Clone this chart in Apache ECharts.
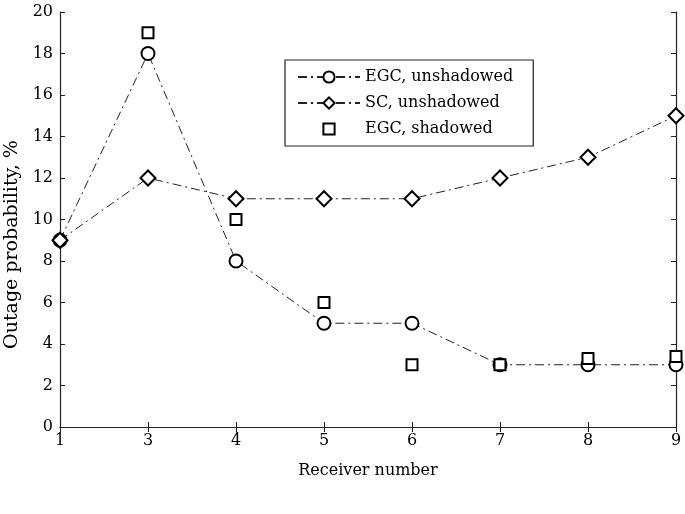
<!DOCTYPE html>
<html>
<head>
<meta charset="utf-8">
<script src="https://cdn.jsdelivr.net/npm/echarts@6/dist/echarts.min.js"></script>
<style>
	html, body { margin: 0; padding: 0; background: #fff; }
	#chart { width: 685px; height: 514px; }
</style>
</head>
<body>
<div id="chart"></div>
<script>
	// receivers (plotted evenly spaced, as in the original figure)
	var receivers = ['1', '3', '4', '5', '6', '7', '8', '9'];
	var egcUnshadowed = [9, 18, 8, 5, 5, 3, 3, 3];
	var scUnshadowed = [9, 12, 11, 11, 11, 12, 13, 15];
	var egcShadowed = [null, 19, 10, 6, 3, 3, 3.3, 3.4];

	var font = 'DejaVu Serif';
	var dashDot = [9, 4, 2, 4];

	var myChart = echarts.init(document.getElementById('chart'));

	function frameAxis(pos, isX) {
		var ax = {
			position: pos,
			axisLine: { show: true, lineStyle: { color: '#222', width: 1.2 } },
			axisTick: { show: true, inside: true, length: 5, lineStyle: { color: '#222' } },
			axisLabel: { show: false },
			splitLine: { show: false }
		};
		if (isX) {
			ax.type = 'category';
			ax.data = receivers;
			ax.boundaryGap = false;
			ax.axisTick.interval = 0;
		} else {
			ax.type = 'value';
			ax.min = 0;
			ax.max = 20;
			ax.interval = 2;
		}
		return ax;
	}

	var xBottom = frameAxis('bottom', true);
	xBottom.axisLabel = { show: true, interval: 0, color: '#000', fontFamily: font, fontSize: 16, margin: 6 };
	xBottom.name = 'Receiver number';
	xBottom.nameLocation = 'middle';
	xBottom.nameGap = 36;
	xBottom.nameTextStyle = { color: '#000', fontFamily: font, fontSize: 16 };

	var yLeft = frameAxis('left', false);
	yLeft.axisLabel = { show: true, color: '#000', fontFamily: font, fontSize: 16, margin: 7 };
	yLeft.name = 'Outage probability, %';
	yLeft.nameLocation = 'middle';
	yLeft.nameGap = 33;
	yLeft.nameTextStyle = { color: '#000', fontFamily: font, fontSize: 19, padding: [0, 50, 0, 0] };

	var option = {
		animation: false,
		backgroundColor: '#fff',
		grid: { left: 60, right: 9, top: 12, bottom: 87, containLabel: false, outerBoundsMode: 'none' },
		xAxis: [xBottom, frameAxis('top', true)],
		yAxis: [yLeft, frameAxis('right', false)],
		legend: {
			orient: 'vertical',
			left: 285,
			top: 60,
			padding: [9, 20, 9, 12],
			itemGap: 10,
			itemWidth: 62,
			itemHeight: 14,
			borderColor: '#222',
			borderWidth: 1.2,
			backgroundColor: '#fff',
			textStyle: { color: '#000', fontFamily: font, fontSize: 16 },
			data: ['EGC, unshadowed', 'SC, unshadowed', 'EGC, shadowed']
		},
		series: [
			{
				name: 'EGC, unshadowed',
				type: 'line',
				data: egcUnshadowed,
				symbol: 'emptyCircle',
				symbolSize: 13,
				itemStyle: { color: '#000', borderColor: '#222', borderWidth: 1 },
				lineStyle: { color: '#222', width: 1, type: dashDot },
				z: 3
			},
			{
				name: 'SC, unshadowed',
				type: 'line',
				data: scUnshadowed,
				symbol: 'emptyDiamond',
				symbolSize: 15,
				itemStyle: { color: '#000', borderColor: '#222', borderWidth: 1 },
				lineStyle: { color: '#222', width: 1, type: dashDot },
				z: 3
			},
			{
				name: 'EGC, shadowed',
				type: 'line',
				data: egcShadowed,
				symbol: 'emptyRect',
				symbolSize: 11,
				showAllSymbol: true,
				itemStyle: { color: '#000', borderColor: '#222', borderWidth: 1 },
				lineStyle: { opacity: 0, width: 0 },
				z: 4
			}
		]
	};
	myChart.setOption(option);
</script>
</body>
</html>
